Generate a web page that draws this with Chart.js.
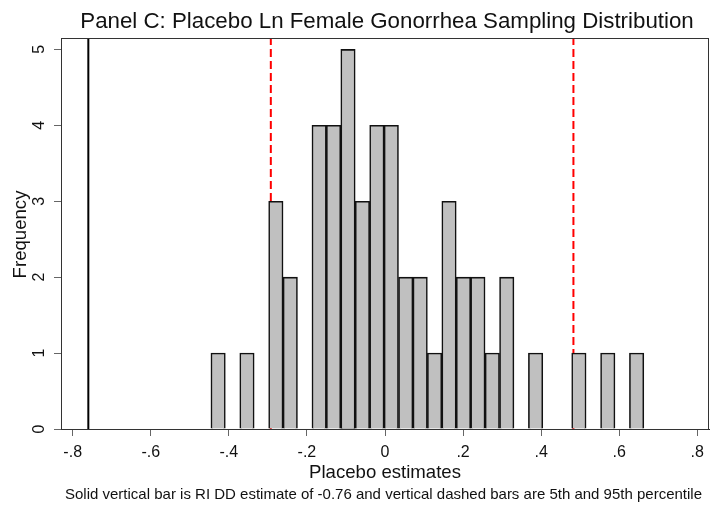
<!DOCTYPE html>
<html>
<head>
<meta charset="utf-8">
<title>Panel C: Placebo Ln Female Gonorrhea Sampling Distribution</title>
<script src="https://cdn.jsdelivr.net/npm/chart.js@4.4.1/dist/chart.umd.min.js"></script>
<style>
  html, body { margin: 0; padding: 0; background: #fff; }
  #wrap { width: 711px; height: 505px; }
</style>
</head>
<body>
<div id="wrap"><canvas id="chart" width="711" height="505"></canvas></div>
<script>
// histogram bins (centre of each bin) and counts
const binCenters = [-0.4275, -0.3905, -0.3536, -0.3166, -0.2796, -0.2427, -0.2057, -0.1687, -0.1318, -0.0948,
                    -0.0578, -0.0208, 0.0161, 0.0531, 0.0901, 0.1270, 0.1640, 0.2010, 0.2379, 0.2749,
                    0.3119, 0.3489, 0.3858, 0.4228, 0.4598, 0.4967, 0.5337, 0.5707, 0.6076, 0.6446];
const frequency = [1, 0, 1, 0, 3, 2, 0, 4, 4, 5,
                   3, 4, 4, 2, 2, 1, 3, 2, 2, 1,
                   2, 0, 1, 0, 0, 1, 0, 1, 0, 1];

// reference lines
const ddEstimate = -0.76;
const percentiles = [-0.2925, 0.4827];   // 5th and 95th

// axes
const xTicks = [-0.8, -0.6, -0.4, -0.2, 0, 0.2, 0.4, 0.6, 0.8];
const xTickLabels = ['-.8', '-.6', '-.4', '-.2', '0', '.2', '.4', '.6', '.8'];
const yTicks = [0, 1, 2, 3, 4, 5];
const xRange = [-0.83, 0.83];
const yRange = [0, 5.15];

const titleText = 'Panel C: Placebo Ln Female Gonorrhea Sampling Distribution';
const xTitle = 'Placebo estimates';
const yTitle = 'Frequency';
const noteText = 'Solid vertical bar is RI DD estimate of -0.76 and vertical dashed bars are 5th and 95th percentile';

const FONT = '"Liberation Sans", Arial, Helvetica, sans-serif';

function vline(x, color, dash, order) {
    return {
        type: 'line',
        data: [{ x: x, y: yRange[0] }, { x: x, y: yRange[1] }],
        borderColor: color,
        borderWidth: 2,
        borderDash: dash,
        pointRadius: 0,
        fill: false,
        order: order
    };
}

// texts and plot frame, drawn after the chart
const frameAndText = {
    id: 'frameAndText',
    afterDraw(chart) {
        const ctx = chart.ctx;
        const a = chart.chartArea;
        ctx.save();
        ctx.strokeStyle = '#333';
        ctx.lineWidth = 1;
        ctx.strokeRect(a.left + 0.5, a.top + 0.5, a.right - a.left - 1, a.bottom - a.top);

        ctx.fillStyle = '#111';
        ctx.textAlign = 'center';
        ctx.textBaseline = 'alphabetic';
        ctx.font = '22.3px ' + FONT;
        ctx.fillText(titleText, 387, 27.5);
        ctx.font = '18.6px ' + FONT;
        ctx.fillText(xTitle, 385, 478);
        ctx.font = '15px ' + FONT;
        ctx.fillText(noteText, 383.5, 499);

        ctx.font = '18.6px ' + FONT;
        ctx.translate(25.5, 234.5);
        ctx.rotate(-Math.PI / 2);
        ctx.fillText(yTitle, 0, 0);
        ctx.restore();
    }
};

new Chart(document.getElementById('chart'), {
    type: 'bar',
    data: {
        datasets: [
            vline(ddEstimate, '#000', [], 0),
            {
                type: 'bar',
                data: binCenters.map((c, i) => ({ x: c, y: frequency[i] })),
                backgroundColor: '#c0c0c0',
                borderColor: '#111',
                borderWidth: 1.6,
                barPercentage: 1,
                categoryPercentage: 1,
                order: 1
            },
            vline(percentiles[0], '#ff0000', [8, 4], 2),
            vline(percentiles[1], '#ff0000', [8, 4], 2)
        ]
    },
    options: {
        responsive: false,
        animation: false,
        layout: { padding: { left: 0, right: 2, top: 38, bottom: 0 } },
        plugins: {
            legend: { display: false },
            tooltip: { enabled: false }
        },
        scales: {
            x: {
                type: 'linear',
                min: xRange[0],
                max: xRange[1],
                offset: false,
                grid: { offset: false, drawOnChartArea: false, tickLength: 7, tickColor: '#666', lineWidth: 1 },
                border: { display: true, color: '#222', width: 1 },
                afterBuildTicks: s => { s.ticks = xTicks.map(v => ({ value: v })); },
                afterFit: s => { s.height = 76; },
                ticks: {
                    color: '#111',
                    font: { family: FONT, size: 16 },
                    padding: 7,
                    maxRotation: 0,
                    autoSkip: false,
                    callback: (v, i) => xTickLabels[i]
                }
            },
            y: {
                min: yRange[0],
                max: yRange[1],
                grid: { drawOnChartArea: false, tickLength: 7, tickColor: '#666', lineWidth: 1 },
                border: { display: true, color: '#222', width: 1 },
                afterBuildTicks: s => { s.ticks = yTicks.map(v => ({ value: v })); },
                afterFit: s => { s.width = 61; },
                ticks: {
                    color: '#111',
                    font: { family: FONT, size: 16 },
                    padding: 10,
                    minRotation: 90,
                    maxRotation: 90,
                    crossAlign: 'center',
                    autoSkip: false,
                    callback: v => String(v)
                }
            }
        }
    },
    plugins: [frameAndText]
});
</script>
</body>
</html>
